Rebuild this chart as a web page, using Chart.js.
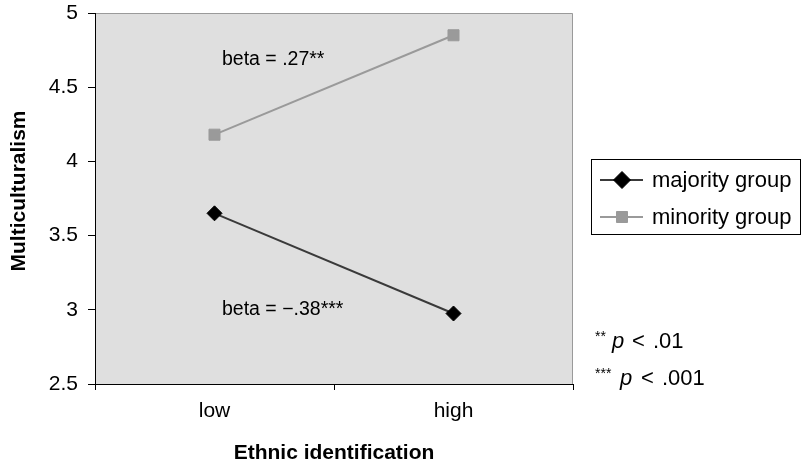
<!DOCTYPE html>
<html>
<head>
<meta charset="utf-8">
<script src="https://cdn.jsdelivr.net/npm/chart.js@4/dist/chart.umd.min.js"></script>
<style>
  html, body { margin: 0; padding: 0; background: #fff; }
  #wrap { width: 802px; height: 466px; }
</style>
</head>
<body>
<div id="wrap"><canvas id="chart" width="802" height="466"></canvas></div>
<script>
const categories = ['low', 'high'];
const majorityValues = [3.65, 2.975];
const minorityValues = [4.18, 4.85];
const yTicks = [2.5, 3, 3.5, 4, 4.5, 5];
const seriesNames = ['majority group', 'minority group'];
const betaLabels = ['beta = .27**', 'beta = \u2212.38***'];
const yTitle = 'Multiculturalism';

const FONT = '"Liberation Sans", Arial, Helvetica, sans-serif';

// gray plot background + thin frame on top/right
const plotBg = {
    id: 'plotBg',
    beforeDraw(chart) {
        const { ctx, chartArea: a } = chart;
        ctx.save();
        ctx.fillStyle = '#dfdfdf';
        ctx.fillRect(a.left, a.top, a.right - a.left, a.bottom - a.top);
        ctx.strokeStyle = '#9a9a9a';
        ctx.lineWidth = 1;
        ctx.beginPath();
        ctx.moveTo(a.left, a.top + 0.5);
        ctx.lineTo(a.right - 0.5, a.top + 0.5);
        ctx.lineTo(a.right - 0.5, a.bottom);
        ctx.stroke();
        ctx.restore();
    }
};

// legend box, y title, beta notes, footnotes
const extras = {
    id: 'extras',
    afterDraw(chart) {
        const { ctx } = chart;
        ctx.save();

        // y axis title (placed a bit above centre, like the original)
        ctx.fillStyle = '#000';
        ctx.font = 'bold 21px ' + FONT;
        ctx.textAlign = 'center';
        ctx.textBaseline = 'middle';
        ctx.translate(19, 191);
        ctx.rotate(-Math.PI / 2);
        ctx.fillText(yTitle, 0, 0);
        ctx.setTransform(1, 0, 0, 1, 0, 0);

        // legend
        ctx.strokeStyle = '#000';
        ctx.lineWidth = 1;
        ctx.strokeRect(591.5, 159.5, 209, 75);
        ctx.font = '22px ' + FONT;
        ctx.textBaseline = 'middle';
        ctx.textAlign = 'left';
        const rows = [180, 217];
        chart.data.datasets.forEach((ds, i) => {
            const y = rows[i];
            ctx.strokeStyle = ds.borderColor;
            ctx.lineWidth = 2;
            ctx.beginPath();
            ctx.moveTo(600, y);
            ctx.lineTo(643, y);
            ctx.stroke();
            ctx.fillStyle = ds.pointBackgroundColor;
            ctx.strokeStyle = ds.pointBackgroundColor;
            ctx.lineWidth = 1;
            Chart.helpers.drawPoint(ctx, {
                pointStyle: ds.pointStyle, rotation: 0, borderWidth: 1,
                radius: ds.pointStyle === 'rect' ? 7.8 : 8.5
            }, 622, y);
            ctx.fillStyle = '#000';
            ctx.fillText(ds.label, 652, y + 1);
        });

        // beta notes
        ctx.fillStyle = '#000';
        ctx.font = '19.5px ' + FONT;
        ctx.fillText(betaLabels[0], 222, 60);
        ctx.fillText(betaLabels[1], 222, 310);

        // footnotes
        ctx.textBaseline = 'alphabetic';
        const foot = (y, stars, px, lx, rest, rx) => {
            ctx.font = '14px ' + FONT;
            ctx.fillText(stars, 595, y - 7);
            ctx.font = 'italic 22px ' + FONT;
            ctx.fillText('p', px, y);
            ctx.font = '22px ' + FONT;
            ctx.fillText('<', lx, y);
            ctx.fillText(rest, rx, y);
        };
        foot(348, '**', 612, 632, '.01', 653);
        foot(385, '***', 620, 641, '.001', 662);
        ctx.restore();
    }
};

new Chart(document.getElementById('chart').getContext('2d'), {
    type: 'line',
    data: {
        labels: categories,
        datasets: [{
            label: seriesNames[0],
            data: majorityValues,
            borderColor: '#3a3a3a',
            borderWidth: 2,
            pointStyle: 'rectRot',
            pointRadius: 7.5,
            pointBackgroundColor: '#000',
            pointBorderColor: '#000',
            pointBorderWidth: 1,
            tension: 0
        }, {
            label: seriesNames[1],
            data: minorityValues,
            borderColor: '#9a9a9a',
            borderWidth: 2,
            pointStyle: 'rect',
            pointRadius: 7.8,
            pointBackgroundColor: '#9a9a9a',
            pointBorderColor: '#9a9a9a',
            pointBorderWidth: 1,
            tension: 0
        }]
    },
    options: {
        responsive: false,
        animation: false,
        layout: { autoPadding: false, padding: { top: 13, right: 229, left: 0, bottom: 0 } },
        plugins: {
            legend: { display: false },
            tooltip: { enabled: false }
        },
        scales: {
            x: {
                offset: true,
                grid: { offset: true, drawOnChartArea: false, color: '#000', tickLength: 6 },
                border: { color: '#000', width: 1 },
                ticks: { color: '#000', font: { family: FONT, size: 21 }, padding: 9 },
                title: {
                    display: true, text: 'Ethnic identification', color: '#000',
                    font: { family: FONT, size: 21, weight: 'bold' }, padding: { top: 16, bottom: 0 }
                },
                afterFit(scale) {
                    scale.height = 82;
                    scale.paddingLeft = 0;
                    scale.paddingRight = 0;
                }
            },
            y: {
                min: 2.5,
                max: 5,
                afterBuildTicks(scale) { scale.ticks = yTicks.map(v => ({ value: v })); },
                grid: { drawOnChartArea: false, color: '#000', tickLength: 7 },
                border: { color: '#000', width: 1 },
                ticks: {
                    color: '#000', font: { family: FONT, size: 21 }, padding: 10,
                    callback: (v) => String(v)
                },
                afterFit(scale) {
                    scale.width = 95;
                    scale.paddingTop = 0;
                    scale.paddingBottom = 0;
                }
            }
        }
    },
    plugins: [plotBg, extras]
});
</script>
</body>
</html>
